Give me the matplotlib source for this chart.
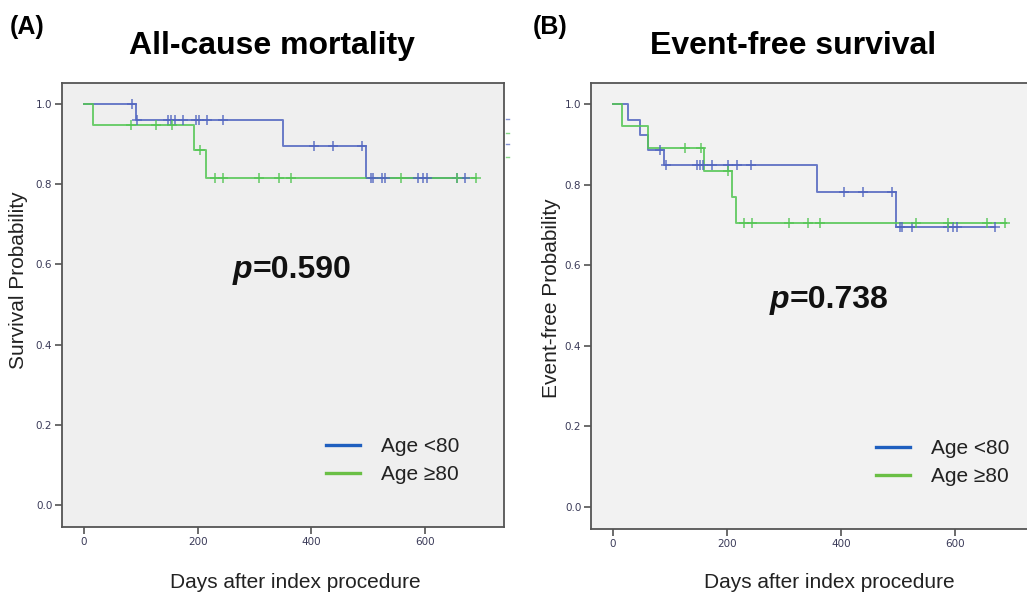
import numpy as np
import matplotlib
matplotlib.use("Agg")
import matplotlib.pyplot as plt
from matplotlib.lines import Line2D

# ---------------- data ----------------
# Panel A: All-cause mortality
a_young_t = [0, 91, 351, 497, 671]
a_young_s = [1.0, 0.96, 0.896, 0.815, 0.815]
a_young_c = [84, 93, 148, 153, 161, 174, 197, 203, 217, 244, 405, 439, 490,
             505, 508, 525, 530, 588, 597, 603, 656, 671]
a_old_t = [0, 16, 194, 215, 689]
a_old_s = [1.0, 0.947, 0.884, 0.815, 0.815]
a_old_c = [82, 127, 154, 204, 231, 245, 308, 343, 364, 557, 656, 689]

# Panel B: Event-free survival
b_young_t = [0, 26, 48, 62, 90, 358, 497, 671]
b_young_s = [1.0, 0.96, 0.922, 0.885, 0.848, 0.782, 0.695, 0.695]
b_young_c = [82, 93, 147, 153, 158, 173, 202, 217, 243, 405, 438, 490,
             503, 507, 525, 588, 597, 603, 671]
b_old_t = [0, 16, 62, 160, 208, 215, 690]
b_old_s = [1.0, 0.945, 0.89, 0.834, 0.77, 0.705, 0.705]
b_old_c = [126, 154, 202, 230, 244, 309, 343, 363, 532, 588, 657, 688]

groups = ["Age <80", "Age \u226580"]
p_values = ["0.590", "0.738"]
titles = ["All-cause mortality", "Event-free survival"]
panel_tags = ["(A)", "(B)"]
ylabels = ["Survival Probability", "Event-free Probability"]
xlabel = "Days after index procedure"
xticks = [0, 200, 400, 600]
yticks = [0.0, 0.2, 0.4, 0.6, 0.8, 1.0]

# ---------------- style ----------------
W, H = 1027, 598
FONT = "Liberation Sans"
km_blue = "#5266c0"
km_green = "#55c655"
leg_blue = "#1f5fbf"
leg_green = "#6abf45"
tick_col = "#3a3a58"

fig = plt.figure(figsize=(W / 100, H / 100), dpi=100)
fig.patch.set_facecolor("white")


def px_axes(l, r, b, t):
    return fig.add_axes([l / W, (H - b) / H, (r - l) / W, (b - t) / H])


axA = px_axes(62, 504, 527, 83)
axB = px_axes(591, 1034, 529, 83)


def surv_at(times, surv, c):
    idx = np.searchsorted(np.asarray(times), np.asarray(c), side="right") - 1
    return np.asarray(surv)[idx]


def draw_km(ax, t, s, c, color):
    ax.step(t, s, where="post", color=color, lw=1.4, alpha=0.85, zorder=3)
    ax.plot(c, surv_at(t, s, c), linestyle="none", marker="+", ms=7,
            mew=1.1, color=color, alpha=0.9, zorder=4)


panels = [
    (axA, a_young_t, a_young_s, a_young_c, a_old_t, a_old_s, a_old_c,
     "#efefef", (0.597, 0.203), (296, 0.586)),
    (axB, b_young_t, b_young_s, b_young_c, b_old_t, b_old_s, b_old_c,
     "#f2f2f2", (0.643, 0.202), (310, 0.514)),
]

for i, (ax, yt, ys, yc, ot, os_, oc, bg, leg_anchor, ppos) in enumerate(panels):
    ax.set_facecolor(bg)
    draw_km(ax, yt, ys, yc, km_blue)
    draw_km(ax, ot, os_, oc, km_green)
    ax.set_xlim(-38.7, 739)
    ax.set_ylim(-0.055, 1.052)
    ax.set_xticks(xticks)
    ax.set_yticks(yticks)
    ax.set_xticklabels([str(v) for v in xticks])
    ax.set_yticklabels([f"{v:.1f}" for v in yticks])
    ax.tick_params(direction="out", length=5, width=1.1, color="#444444",
                   labelsize=7.5, labelcolor=tick_col, pad=2)
    for sp in ax.spines.values():
        sp.set_color("#555555")
        sp.set_linewidth(1.3)

    handles = [Line2D([0], [0], color=leg_blue, lw=2.4),
               Line2D([0], [0], color=leg_green, lw=2.4)]
    leg = ax.legend(handles, groups, loc="upper left",
                    bbox_to_anchor=leg_anchor, borderpad=0, borderaxespad=0,
                    frameon=False, handlelength=1.64, handletextpad=1.0,
                    labelspacing=0.45, prop={"family": FONT, "size": 15})
    for txt in leg.get_texts():
        txt.set_color("#222222")

    # p-value: bold italic "p" followed by bold "=value"
    ptxt = ax.text(ppos[0], ppos[1], "p", ha="right", va="center",
                   fontsize=23, fontweight="bold", fontstyle="italic",
                   family=FONT, color="#111111")
    ax.annotate("=" + p_values[i], xy=(1.0, 0.0), xycoords=ptxt,
                ha="left", va="bottom", fontsize=23, fontweight="bold",
                family=FONT, color="#111111")

# axis labels
axA.text(-0.098, 0.556, ylabels[0], rotation=90, ha="center", va="center",
         transform=axA.transAxes, fontsize=15, family=FONT, color="#222222")
axB.text(-0.09, 0.518, ylabels[1], rotation=90, ha="center", va="center",
         transform=axB.transAxes, fontsize=15, family=FONT, color="#222222")
axA.text(0.527, -0.124, xlabel, ha="center", va="center",
         transform=axA.transAxes, fontsize=15, family=FONT, color="#222222")
axB.text(0.537, -0.119, xlabel, ha="center", va="center",
         transform=axB.transAxes, fontsize=15, family=FONT, color="#222222")

# titles and panel tags
fig.text(272 / W, 1 - 54 / H, titles[0], ha="center", va="baseline",
         fontsize=23, fontweight="bold", family=FONT)
fig.text(793 / W, 1 - 54 / H, titles[1], ha="center", va="baseline",
         fontsize=23, fontweight="bold", family=FONT)
fig.text(10 / W, 1 - 34 / H, panel_tags[0], ha="left", va="baseline",
         fontsize=18, fontweight="bold", family=FONT)
fig.text(533 / W, 1 - 34 / H, panel_tags[1], ha="left", va="baseline",
         fontsize=18, fontweight="bold", family=FONT)

# tiny residual legend marks at right of panel A
for yy, col in zip([119, 133, 144, 157], [km_blue, km_green, km_blue, km_green]):
    fig.add_artist(Line2D([506 / W, 509 / W], [1 - yy / H, 1 - yy / H],
                          color=col, lw=1.0, alpha=0.7))

fig.savefig("out.png", dpi=100)
